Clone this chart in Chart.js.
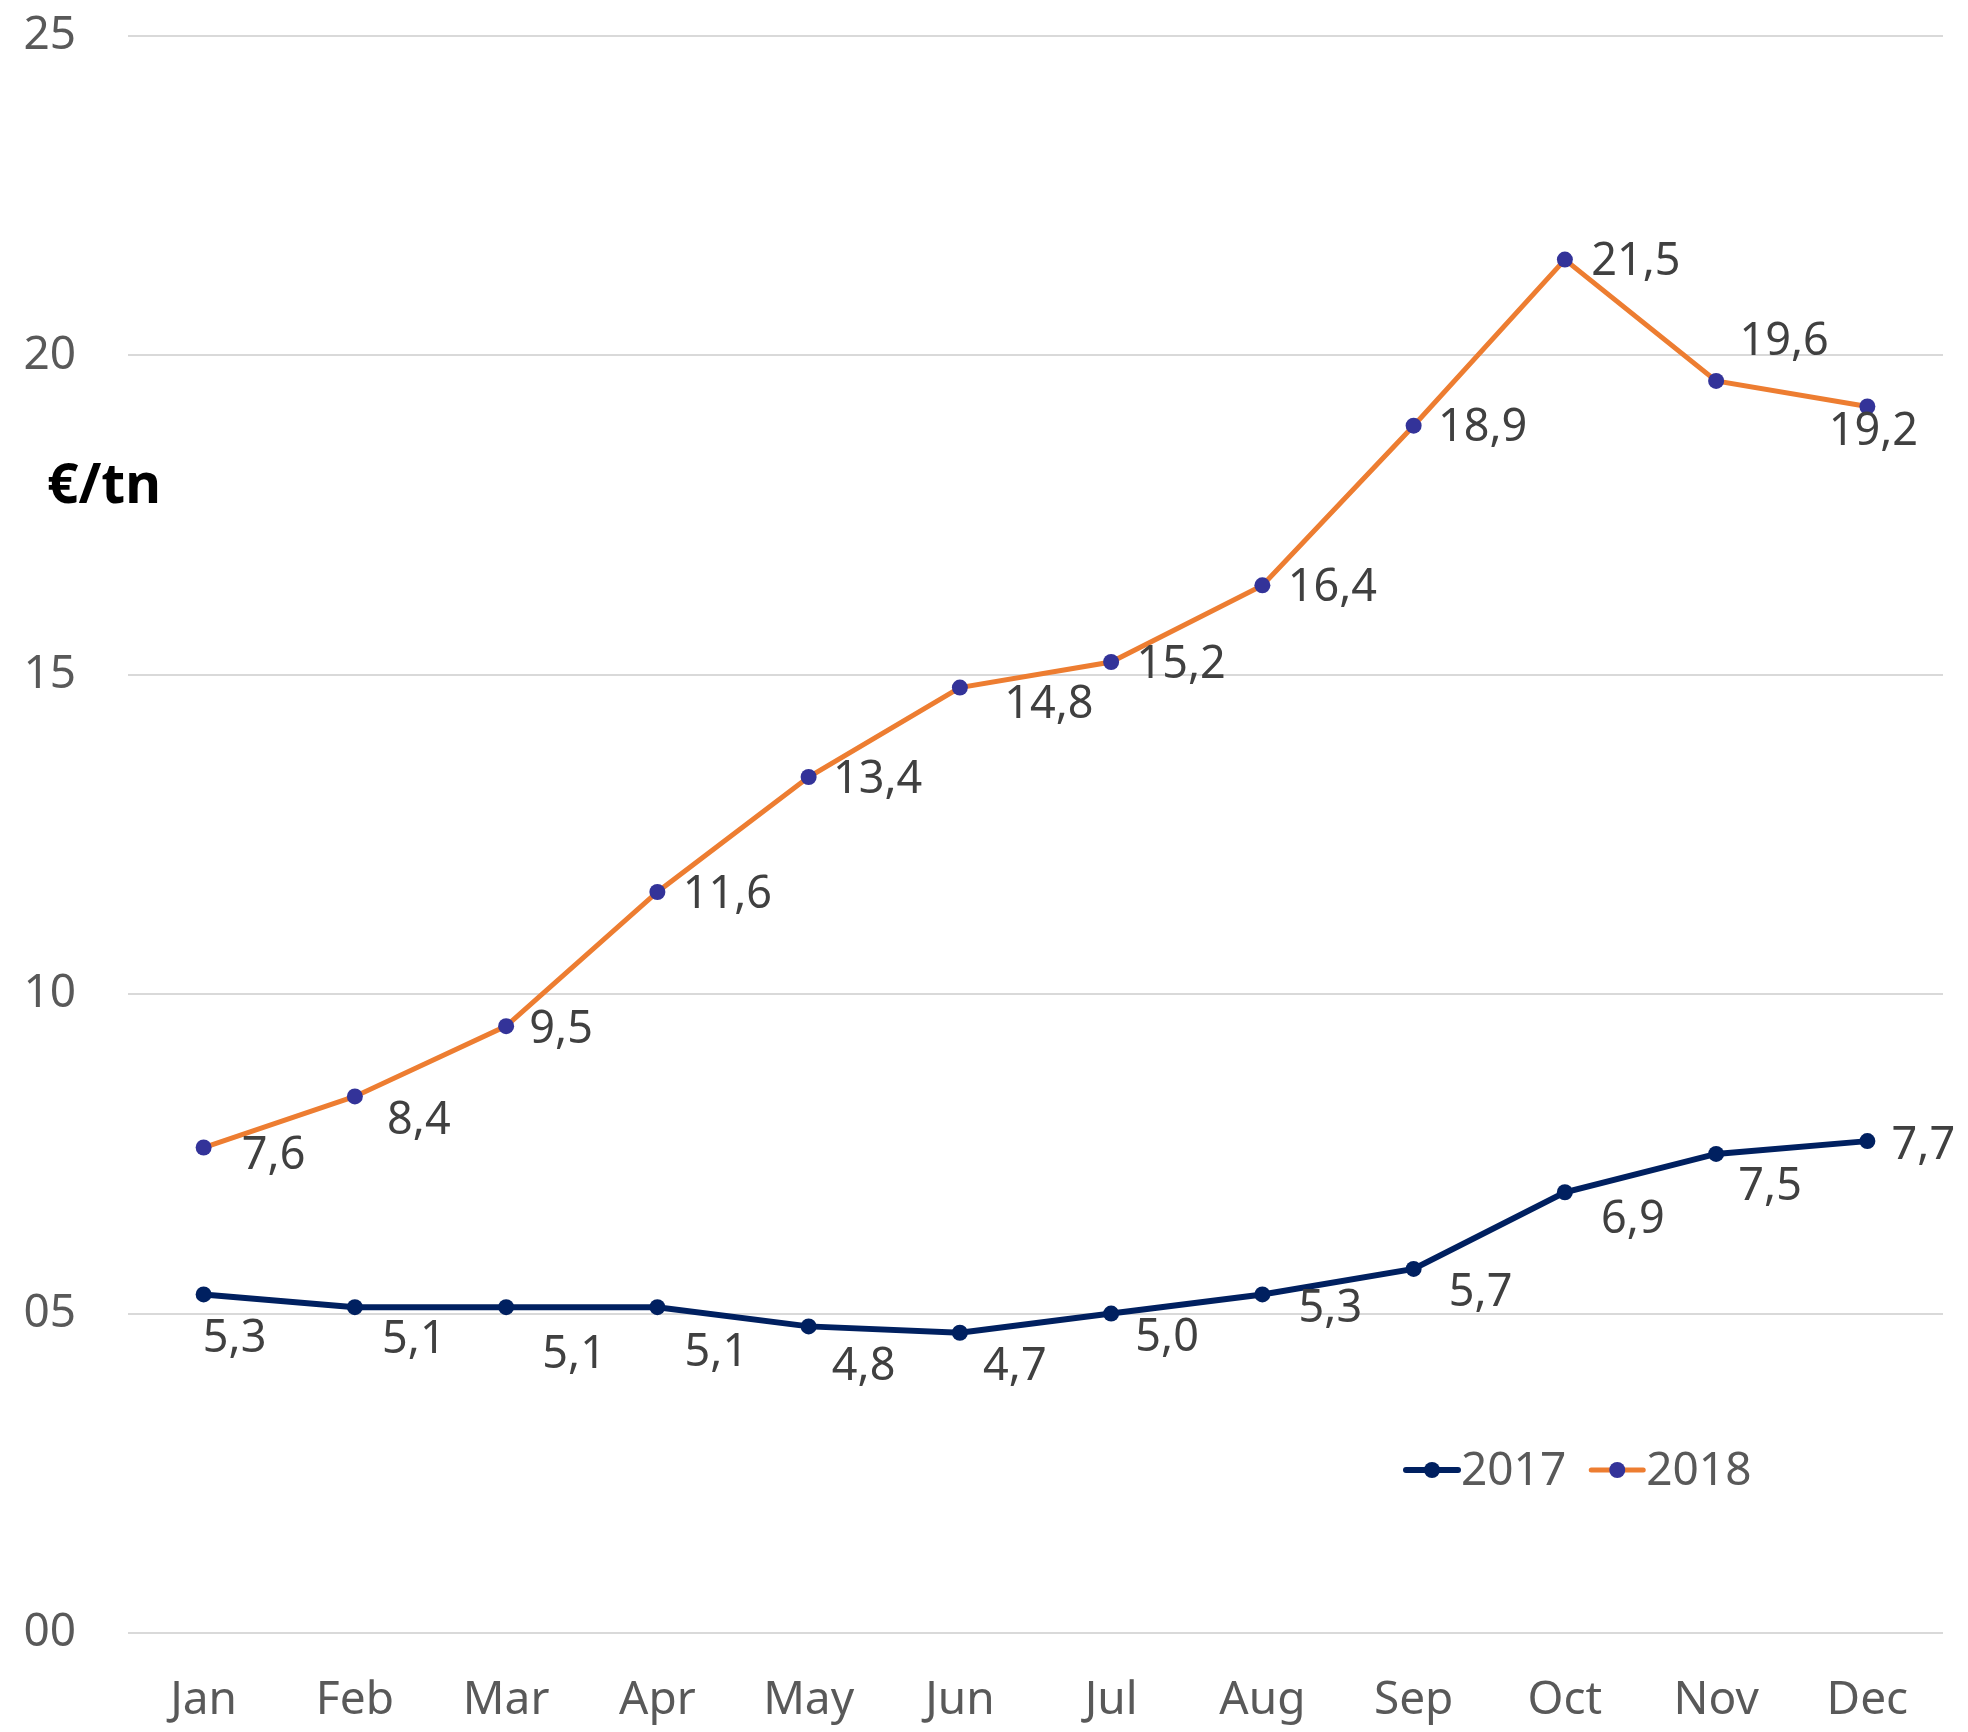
<!DOCTYPE html>
<html>
<head>
<meta charset="utf-8">
<script src="https://cdn.jsdelivr.net/npm/chart.js@4/dist/chart.umd.min.js"></script>
<style>
  html, body { margin: 0; padding: 0; background: #fff; }
  #wrap { width: 1968px; height: 1732px; }
</style>
</head>
<body>
<div id="wrap"><canvas id="priceChart" width="1968" height="1732"></canvas></div>
<script>
// data
const months = ['Jan', 'Feb', 'Mar', 'Apr', 'May', 'Jun', 'Jul', 'Aug', 'Sep', 'Oct', 'Nov', 'Dec'];
const values2017 = [5.3, 5.1, 5.1, 5.1, 4.8, 4.7, 5.0, 5.3, 5.7, 6.9, 7.5, 7.7];
const values2018 = [7.6, 8.4, 9.5, 11.6, 13.4, 14.8, 15.2, 16.4, 18.9, 21.5, 19.6, 19.2];
const seriesNames = ['2017', '2018'];
const yMin = 0;
const yMax = 25;
const yStep = 5;
const unitLabel = '€/tn';

// where each value label sits relative to its point (px)
const labelOffsets2017 = [[31, 45], [59, 33], [68, 48], [59, 46], [55, 41], [55, 34], [56, 25], [68, 15], [67, 24], [68, 28], [54, 33], [56, 5]];
const labelOffsets2018 = [[70, 9], [64, 25], [55, 4], [70, 3], [69, 3], [89, 18], [70, 3], [70, 3], [69, 3], [71, 3], [68, -39], [6, 26]];

const FONT = '"Noto Sans", "Open Sans", sans-serif';

const fmt = v => v.toFixed(1).replace('.', ',');

// value labels next to each point
const valueLabels = {
    id: 'valueLabels',
    afterDatasetsDraw(chart) {
        const ctx = chart.ctx;
        const offsets = [labelOffsets2017, labelOffsets2018];
        ctx.save();
        ctx.font = '45px ' + FONT;
        ctx.fillStyle = '#404040';
        ctx.textAlign = 'center';
        ctx.textBaseline = 'middle';
        chart.data.datasets.forEach((ds, i) => {
            chart.getDatasetMeta(i).data.forEach((pt, j) => {
                const off = offsets[i][j];
                ctx.fillText(fmt(ds.data[j]), pt.x + off[0], pt.y + off[1]);
            });
        });
        ctx.restore();
    }
};

// legend inside the plot, line + dot like the original
const inlineLegend = {
    id: 'inlineLegend',
    afterDraw(chart) {
        const ctx = chart.ctx;
        const area = chart.chartArea;
        let x = area.left + 1275;
        const y = area.top + 1434;
        ctx.save();
        ctx.font = '46px ' + FONT;
        ctx.textBaseline = 'middle';
        ctx.textAlign = 'left';
        chart.data.datasets.forEach(ds => {
            ctx.strokeStyle = ds.borderColor;
            ctx.lineWidth = ds.borderWidth;
            ctx.lineCap = 'round';
            ctx.beginPath();
            ctx.moveTo(x + 3, y);
            ctx.lineTo(x + 55, y);
            ctx.stroke();
            ctx.fillStyle = ds.pointBackgroundColor;
            ctx.beginPath();
            ctx.arc(x + 29, y, ds.pointRadius, 0, Math.PI * 2);
            ctx.fill();
            ctx.fillStyle = '#595959';
            ctx.fillText(ds.label, x + 58, y + 2);
            x += 58 + ctx.measureText(ds.label).width + 22;
        });
        ctx.restore();
    }
};

// unit label at the left
const unitTitle = {
    id: 'unitTitle',
    afterDraw(chart) {
        const ctx = chart.ctx;
        ctx.save();
        ctx.font = 'bold 55px ' + FONT;
        ctx.fillStyle = '#000';
        ctx.textAlign = 'center';
        ctx.textBaseline = 'middle';
        ctx.fillText(unitLabel, 104, 487);
        ctx.restore();
    }
};

const ctx = document.getElementById('priceChart').getContext('2d');
new Chart(ctx, {
    type: 'line',
    data: {
        labels: months,
        datasets: [
            {
                label: seriesNames[0],
                data: values2017,
                borderColor: '#002060',
                backgroundColor: '#002060',
                pointBackgroundColor: '#002060',
                pointBorderColor: '#002060',
                borderWidth: 6,
                pointRadius: 8,
                pointBorderWidth: 0,
                tension: 0
            },
            {
                label: seriesNames[1],
                data: values2018,
                borderColor: '#ED7D31',
                backgroundColor: '#ED7D31',
                pointBackgroundColor: '#333399',
                pointBorderColor: '#333399',
                borderWidth: 5,
                pointRadius: 8,
                pointBorderWidth: 0,
                tension: 0
            }
        ]
    },
    options: {
        responsive: false,
        animation: false,
        devicePixelRatio: 1,
        layout: {
            padding: { top: 36, right: 25, left: 0, bottom: 0 }
        },
        plugins: {
            legend: { display: false },
            tooltip: { enabled: false }
        },
        scales: {
            x: {
                offset: true,
                grid: { display: false, drawTicks: false },
                border: { display: false },
                ticks: {
                    color: '#595959',
                    font: { family: FONT, size: 46 },
                    padding: 40
                },
                afterFit(scale) { scale.height = 99; }
            },
            y: {
                min: yMin,
                max: yMax,
                grid: { color: '#d9d9d9', lineWidth: 2, drawTicks: false },
                border: { display: false },
                ticks: {
                    stepSize: yStep,
                    color: '#595959',
                    font: { family: FONT, size: 46 },
                    padding: 52,
                    callback: v => String(v).padStart(2, '0')
                },
                afterFit(scale) {
                    scale.width = 128;
                    scale.paddingTop = 0;
                    scale.paddingBottom = 0;
                }
            }
        }
    },
    plugins: [valueLabels, inlineLegend, unitTitle]
});
</script>
</body>
</html>
